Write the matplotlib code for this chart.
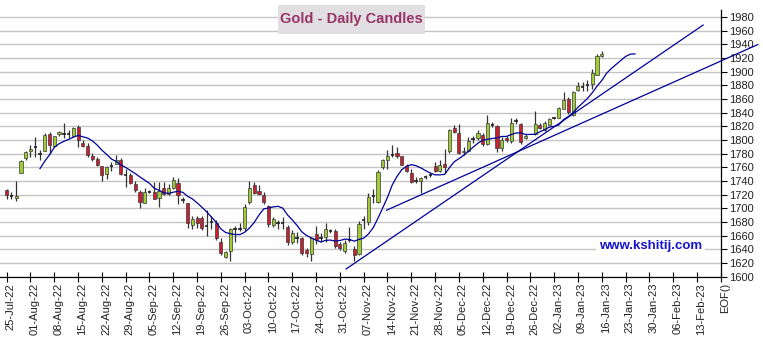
import matplotlib
matplotlib.use('Agg')
import matplotlib.pyplot as plt
from matplotlib.patches import Rectangle
from matplotlib.transforms import ScaledTranslation
import pandas as pd

plt.rcParams['font.family'] = ['Liberation Sans', 'DejaVu Sans']

# daily OHLC, one entry per weekday slot starting 25-Jul-22 (None = no session)
opens = [1726, 1719, 1715, 1752, 1774, 1783.5, 1790, 1779.5, 1783.4, 1808,
         1791, 1808, 1809, 1809, 1806, 1819.5, 1795.6, 1791, 1777, 1772,
         1761, 1750, 1762, 1765, 1771, 1749.5, 1749, 1735, 1723, 1708,
         1724, 1724, 1714.5, 1729, 1721, 1729, 1737, 1711, 1707, 1676,
         1685, 1686, 1674, 1680, 1679, 1650, 1629, 1638, 1670, 1670,
         1671, 1709, 1734.5, 1725.6, 1720, 1702.5, 1676, 1677.5, 1678.5, 1672,
         1650, 1656, 1656, 1639, 1633, 1662, 1656, 1658, 1666, 1666,
         1648, 1636.6, 1653, 1640, 1633, 1683, 1680, 1718, 1709, 1760,
         1771, 1777, 1781, 1776, 1761.5, 1752, 1740, 1740, 1745, 1748,
         1762, 1755, 1764, 1783, 1817.7, 1810, 1782, 1784, 1801, 1802,
         1807.5, 1794, 1822, 1820, 1788, 1802.6, 1798, 1827, 1823.5, 1803,
         None, 1809, 1821.4, 1815, 1822, 1831.6, 1832.5, 1845.5, 1860.5, 1836.5,
         1873.6, 1877.5, 1880.5, 1881, 1895.6, 1922.4]
highs = [1728, 1723, 1739.5, 1771, 1784, 1793, 1804, 1785, 1810, 1811,
         1806, 1813.6, 1825, 1814, 1818.5, 1821, 1800, 1795, 1780.5, 1774.6,
         1762.4, 1762.4, 1767, 1778.5, 1773.6, 1757, 1751, 1740.5, 1726.6, 1729,
         1726, 1738, 1739, 1739, 1736, 1745, 1743.6, 1717, 1708, 1689,
         1689, 1689, 1698, 1688, 1683, 1656, 1638, 1671, 1674, 1678,
         1706, 1740, 1737.6, 1734, 1723, 1704, 1687, 1683, 1687, 1675,
         1668, 1665.5, 1658, 1642, 1658, 1673.6, 1663, 1678.5, 1669, 1669,
         1650, 1653.5, 1672, 1645, 1681, 1688, 1722, 1728, 1756, 1772.6,
         1784.6, 1792, 1789, 1777, 1765, 1757, 1746, 1746, 1748, 1752,
         1768, 1771, 1786, 1816, 1821, 1823.7, 1790, 1804, 1805, 1815,
         1810, 1837, 1825.5, 1821, 1804, 1805, 1831.6, 1832.5, 1824, 1808,
         None, 1842, 1824, 1828, 1832, 1833, 1848, 1870.5, 1862, 1871.5,
         1885, 1885, 1888, 1903, 1926, 1929.8]
lows = [1714, 1713, 1710, 1751, 1770, 1775.6, 1775.6, 1771, 1783, 1779.5,
        1789, 1806, 1803, 1803, 1805, 1790, 1789, 1775.6, 1769, 1761,
        1740, 1743, 1754, 1765, 1749, 1731.7, 1735.6, 1723, 1700, 1707,
        1722, 1713, 1702, 1719, 1719, 1727.6, 1706, 1707, 1671, 1670,
        1671, 1668, 1660, 1669, 1653, 1632, 1627, 1622, 1651, 1666,
        1666, 1706, 1720.5, 1720, 1706, 1672.7, 1672.7, 1670, 1670, 1646,
        1648, 1649, 1632, 1629, 1623, 1647, 1651, 1651, 1663, 1642,
        1639, 1634, 1651, 1622, 1631, 1670, 1676, 1708, 1708, 1757,
        1757, 1775, 1774, 1763, 1753, 1737, 1736.6, 1722, 1743, 1745,
        1753, 1753, 1752, 1780.6, 1810, 1779, 1778, 1781.6, 1796, 1800,
        1791.5, 1792.5, 1819.5, 1782, 1783, 1797, 1796, 1823, 1794, 1801,
        None, 1807.5, 1815.7, 1813, 1821, 1830, 1831.6, 1844.5, 1838, 1835,
        1871, 1871.5, 1871.5, 1875, 1894.6, 1921]
closes = [1720, 1718, 1718.5, 1769, 1781.5, 1787, 1790.5, 1778.5, 1807, 1792.7,
          1805, 1812, 1809.5, 1809.5, 1816.6, 1800, 1790.7, 1778, 1772, 1763.4,
          1749, 1760, 1762.5, 1771, 1750, 1749, 1737, 1727, 1709, 1723,
          1724.5, 1714, 1725.6, 1721, 1729, 1741, 1719, 1711.5, 1678, 1684,
          1679, 1671, 1674.5, 1680.5, 1656, 1634.4, 1636, 1669, 1670.5, 1670.5,
          1701, 1729.5, 1721.5, 1721, 1709, 1677.5, 1684.7, 1678, 1679, 1650,
          1663, 1656.5, 1635, 1634, 1656, 1653, 1656.5, 1669, 1666.5, 1645,
          1641.5, 1649.6, 1653.5, 1632, 1677, 1683.5, 1716, 1718.5, 1753, 1770,
          1777, 1777.5, 1776, 1763, 1755, 1738, 1740.5, 1744.5, 1745.5, 1748.5,
          1755, 1763.5, 1760, 1815, 1811, 1780.6, 1784, 1799, 1801.5, 1810,
          1794.5, 1825, 1821.5, 1788, 1800, 1799.5, 1824, 1827.5, 1796.4, 1806,
          None, 1823, 1817, 1825, 1830, 1832, 1846, 1859, 1841, 1869.5,
          1878.3, 1877, 1881, 1898.5, 1922.4, 1925.8]

week_labels = ['25-Jul-22', '01-Aug-22', '08-Aug-22', '15-Aug-22', '22-Aug-22',
               '29-Aug-22', '05-Sep-22', '12-Sep-22', '19-Sep-22', '26-Sep-22',
               '03-Oct-22', '10-Oct-22', '17-Oct-22', '24-Oct-22', '31-Oct-22',
               '07-Nov-22', '14-Nov-22', '21-Nov-22', '28-Nov-22', '05-Dec-22',
               '12-Dec-22', '19-Dec-22', '26-Dec-22', '02-Jan-23', '09-Jan-23',
               '16-Jan-23', '23-Jan-23', '30-Jan-23', '06-Feb-23', '13-Feb-23',
               'EOF()']

# hand drawn trend lines, (slot, price) at each end
trend_a = [(71.3, 1611), (146.3, 1968)]
trend_b = [(79.8, 1697), (157.8, 1939.5)]

ma_period = 8
ma_ahead = 7

up_color = '#9fcb34'
down_color = '#c8202e'
line_color = '#000099'

fig = plt.figure(figsize=(7.63, 3.44), dpi=100)
ax = fig.add_axes([0.0, 0.1962, 0.9446, 0.7747])

# candles
for i in range(len(closes)):
    o, h, l, c = opens[i], highs[i], lows[i], closes[i]
    if c is None:
        continue
    ax.vlines(i, l, h, color='#333333', lw=0.9, zorder=3)
    if abs(c - o) < 1.2:
        ax.hlines((o + c) / 2, i - 0.36, i + 0.36, color='#222222', lw=1.2, zorder=4)
    else:
        ax.bar(i, abs(c - o), bottom=min(o, c), width=0.66,
               color=up_color if c > o else down_color,
               edgecolor='#3a3a3a', linewidth=0.5, zorder=4)

# 8 day average, carried forward at the last close
s = pd.Series([c for c in closes if c is not None],
              index=[i for i, c in enumerate(closes) if c is not None])
ahead = pd.Series([s.iloc[-1]] * ma_ahead,
                  index=range(len(closes), len(closes) + ma_ahead))
ma = pd.concat([s, ahead]).rolling(ma_period).mean()
ax.plot(ma.index, ma.values, color=line_color, lw=0.9, zorder=5)

ax.plot([p[0] for p in trend_a], [p[1] for p in trend_a],
        color=line_color, lw=0.9, zorder=5)
ax.plot([p[0] for p in trend_b], [p[1] for p in trend_b],
        color=line_color, lw=0.9, zorder=5, clip_on=False)

ax.set_xlim(-1.4, 150)
ax.set_ylim(1600, 1990)

ax.set_yticks(range(1600, 1981, 20))
ax.yaxis.tick_right()
ax.grid(axis='y', color='#c4c4c4', lw=1)
ax.set_axisbelow(True)
ax.tick_params(axis='y', direction='out', length=4, width=0.8, pad=2,
               labelsize=8, labelcolor='#222222')

ax.set_xticks([5 * k for k in range(len(week_labels))])
ax.set_xticklabels(week_labels, rotation=90, fontsize=8, color='#222222')
ax.tick_params(axis='x', direction='inout', length=7, width=0.8, pad=1)
shift = ScaledTranslation(3 / 72, 0, fig.dpi_scale_trans)
for lab in ax.get_xticklabels():
    lab.set_transform(lab.get_transform() + shift)

for side in ['left', 'top']:
    ax.spines[side].set_visible(False)
ax.spines['right'].set_linewidth(0.9)
ax.spines['bottom'].set_linewidth(0.9)

# title box
fig.patches.append(Rectangle((278 / 763, 1 - 34 / 344), 147 / 763, 29 / 344,
                             transform=fig.transFigure, facecolor='#e1dfe1',
                             edgecolor='none', zorder=10))
fig.text(351.5 / 763, 1 - 19.5 / 344, 'Gold - Daily Candles', ha='center',
         va='center', fontsize=10.5, fontweight='bold', color='#993366', zorder=11)

ax.text(650.5 / 763, (344 - 246.5) / 344, 'www.kshitij.com',
        transform=fig.transFigure, ha='center', va='center', fontsize=9.5,
        fontweight='bold', color='#1414cc', zorder=6,
        bbox=dict(facecolor='white', edgecolor='none', pad=2))

fig.savefig('out.png', dpi=100)
